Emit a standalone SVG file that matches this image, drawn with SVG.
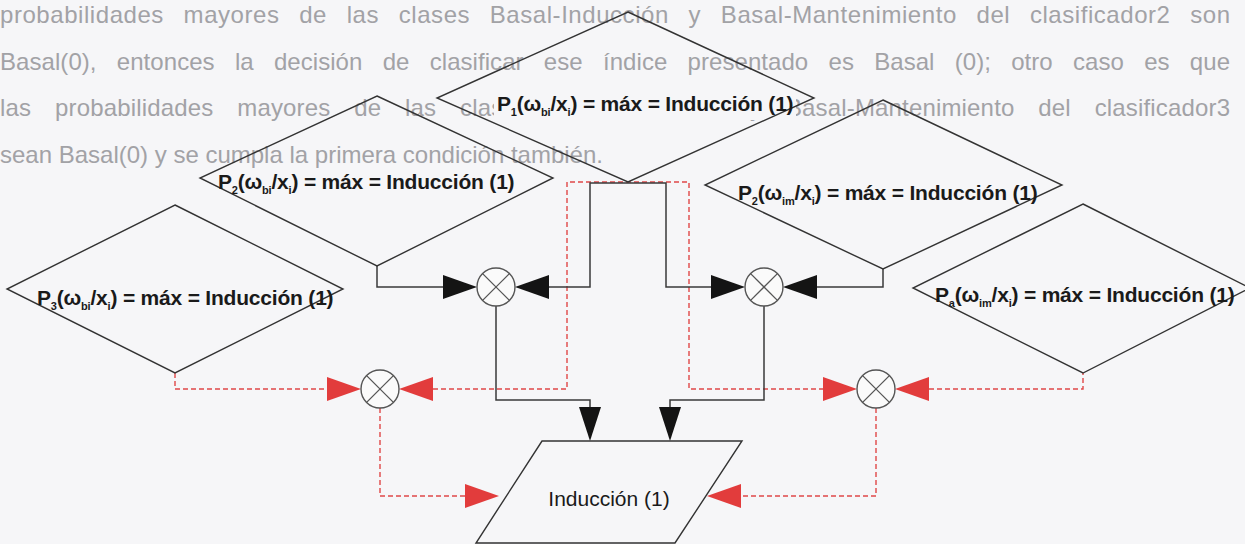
<svg xmlns="http://www.w3.org/2000/svg" width="1245" height="544" viewBox="0 0 1245 544">
<style>
.bg{fill:#f6f6f8}
.para{font-family:"Liberation Sans",Arial,sans-serif;font-size:24px;fill:#a2a2a6}
.shape{fill:none;stroke:#333;stroke-width:1.4}
.lbl{font-family:"Liberation Sans",Arial,sans-serif;font-size:21px;font-weight:bold;fill:#1a1a1a;letter-spacing:-0.2px}
.sub{font-size:11px}
.plain{font-family:"Liberation Sans",Arial,sans-serif;font-size:21px;fill:#1a1a1a;text-anchor:middle}
.blk{fill:none;stroke:#3a3a3a;stroke-width:1.5}
.red{fill:none;stroke:#e04848;stroke-width:1.4;stroke-dasharray:5 3}
.ah{fill:#141414}
.ahr{fill:#e23c3c}
.mul{fill:#fafafa;stroke:#555;stroke-width:1.4}
.x{stroke:#555;stroke-width:1.3}
</style>
<rect class="bg" x="0" y="0" width="1245" height="544"/>
<g id="paragraph">
<text class="para" x="0" y="23" word-spacing="12.5" textLength="1230" lengthAdjust="spacing">probabilidades mayores de las clases Basal-Inducción y Basal-Mantenimiento del clasificador2 son</text>
<text class="para" x="0" y="70" word-spacing="13.5" textLength="1230" lengthAdjust="spacing">Basal(0), entonces la decisión de clasificar ese índice presentado es Basal (0); otro caso es que</text>
<text class="para" x="0" y="116" word-spacing="17" textLength="1230" lengthAdjust="spacing">las probabilidades mayores de las clases Basal-Inducción y Basal-Mantenimiento del clasificador3</text>
<text class="para" x="0" y="163">sean Basal(0) y se cumpla la primera condición también.</text>
</g>
<g id="connectors">
<polyline class="red" points="175,373 175,389 327,389"/>
<polyline class="red" points="433,389 567,389 567,182 689,182 689,389 823,389"/>
<polyline class="red" points="929,389 1083,389 1083,373"/>
<polyline class="red" points="380,408 380,496 465,496"/>
<polyline class="red" points="876,408 876,496 741,496"/>
<polyline class="blk" points="377,266 377,287 443,287"/>
<polyline class="blk" points="549,287 590,287 590,183 666,183 666,287 711,287"/>
<polyline class="blk" points="883,269 883,287 817,287"/>
<polyline class="blk" points="496,306 496,400 590,400 590,407"/>
<polyline class="blk" points="764,306 764,400 670,400 670,407"/>
<polygon class="ah" points="443,275 477,287 443,299"/>
<polygon class="ah" points="549,275 515,287 549,299"/>
<polygon class="ah" points="711,275 745,287 711,299"/>
<polygon class="ah" points="817,275 783,287 817,299"/>
<polygon class="ah" points="579,407 601,407 590,441"/>
<polygon class="ah" points="659,407 681,407 670,441"/>
<polygon class="ahr" points="327,377 361,389 327,401"/>
<polygon class="ahr" points="433,377 399,389 433,401"/>
<polygon class="ahr" points="823,377 857,389 823,401"/>
<polygon class="ahr" points="929,377 895,389 929,401"/>
<polygon class="ahr" points="465,484 499,496 465,508"/>
<polygon class="ahr" points="741,484 707,496 741,508"/>
</g>
<g id="p1-bi">
<rect class="bg" x="494" y="94" width="302" height="26"/>
<polygon class="shape" points="628,12 814,98 628,182 437,98"/>
<text class="lbl" x="497" y="111">P<tspan class="sub" dy="5">1</tspan><tspan dy="-5">(ω</tspan><tspan class="sub" dy="5">bi</tspan><tspan dy="-5">/x</tspan><tspan class="sub" dy="5">i</tspan><tspan dy="-5">) = máx = Inducción (1)</tspan></text>
</g>
<g id="p2-bi">
<polygon class="shape" points="377,96 553,178 377,266 200,178"/>
<text class="lbl" x="218" y="189">P<tspan class="sub" dy="5">2</tspan><tspan dy="-5">(ω</tspan><tspan class="sub" dy="5">bi</tspan><tspan dy="-5">/x</tspan><tspan class="sub" dy="5">i</tspan><tspan dy="-5">) = máx = Inducción (1)</tspan></text>
</g>
<g id="p2-im">
<polygon class="shape" points="883,100 1062,185 883,269 705,185"/>
<text class="lbl" x="738" y="200">P<tspan class="sub" dy="5">2</tspan><tspan dy="-5">(ω</tspan><tspan class="sub" dy="5">im</tspan><tspan dy="-5">/x</tspan><tspan class="sub" dy="5">i</tspan><tspan dy="-5">) = máx = Inducción (1)</tspan></text>
</g>
<g id="p3-bi">
<polygon class="shape" points="175,205 343,289 175,373 7,289"/>
<text class="lbl" x="37" y="305">P<tspan class="sub" dy="5">3</tspan><tspan dy="-5">(ω</tspan><tspan class="sub" dy="5">bi</tspan><tspan dy="-5">/x</tspan><tspan class="sub" dy="5">i</tspan><tspan dy="-5">) = máx = Inducción (1)</tspan></text>
</g>
<g id="pa-im">
<polygon class="shape" points="1083,204 1250,288 1083,373 913,288"/>
<text class="lbl" x="935" y="302">P<tspan class="sub" dy="5">a</tspan><tspan dy="-5">(ω</tspan><tspan class="sub" dy="5">im</tspan><tspan dy="-5">/x</tspan><tspan class="sub" dy="5">i</tspan><tspan dy="-5">) = máx = Inducción (1)</tspan></text>
</g>
<g id="mul-black-left">
<circle class="mul" cx="496" cy="287" r="19"/>
<line class="x" x1="482.6" y1="273.6" x2="509.4" y2="300.4"/><line class="x" x1="509.4" y1="273.6" x2="482.6" y2="300.4"/>
</g>
<g id="mul-black-right">
<circle class="mul" cx="764" cy="287" r="19"/>
<line class="x" x1="750.6" y1="273.6" x2="777.4" y2="300.4"/><line class="x" x1="777.4" y1="273.6" x2="750.6" y2="300.4"/>
</g>
<g id="mul-red-left">
<circle class="mul" cx="380" cy="389" r="19"/>
<line class="x" x1="366.6" y1="375.6" x2="393.4" y2="402.4"/><line class="x" x1="393.4" y1="375.6" x2="366.6" y2="402.4"/>
</g>
<g id="mul-red-right">
<circle class="mul" cx="876" cy="389" r="19"/>
<line class="x" x1="862.6" y1="375.6" x2="889.4" y2="402.4"/><line class="x" x1="889.4" y1="375.6" x2="862.6" y2="402.4"/>
</g>
<g id="induccion">
<polygon class="shape" points="542,441 742,441 675,543 476,543"/>
<text class="plain" x="609" y="506">Inducción (1)</text>
</g>
</svg>
